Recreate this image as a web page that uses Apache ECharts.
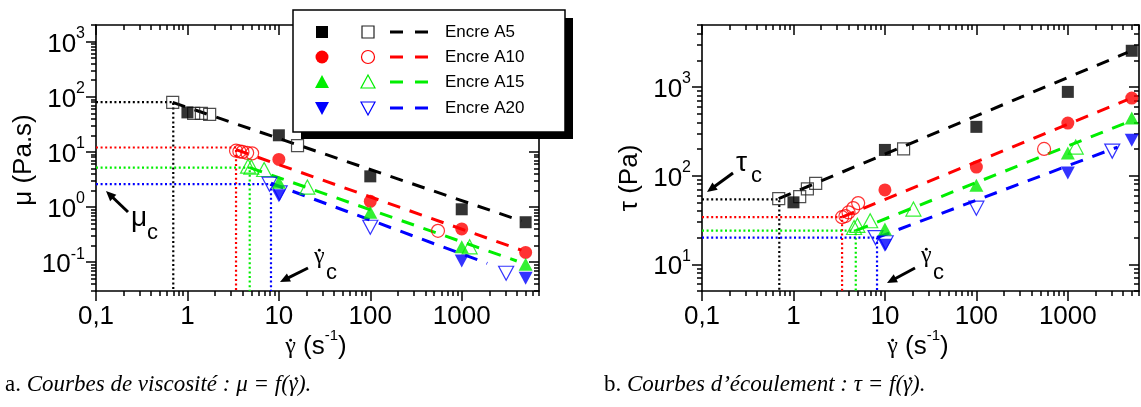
<!DOCTYPE html>
<html><head><meta charset="utf-8">
<script src="https://cdn.jsdelivr.net/npm/echarts@6/dist/echarts.min.js"></script>
<style>html,body{margin:0;padding:0;background:#fff}#c{width:1141px;height:407px}</style>
</head><body><div id="c"></div>
<script>
// ---------- data ----------
const inkNames = ['Encre A5', 'Encre A10', 'Encre A15', 'Encre A20'];
const inkColors = ['#000000', '#ff0000', '#00ee00', '#0000ff'];
const inkSymbols = ['rect', 'circle', 'triangle', 'triangle'];
const inkSymbolRotate = [0, 0, 0, 180];

const shearRangeA = [0.1, 7000];
const shearRangeB = [0.1, 6000];
const muRange = [0.03, 2000];
const tauRange = [5, 5000];
const shearTicks = [0.1, 1, 10, 100, 1000];
const shearTickLabels = ['0,1', '1', '10', '100', '1000'];
const muTicks = [0.1, 1, 10, 100, 1000];
const tauTicks = [10, 100, 1000];

// filled symbols: shear rate (s-1)
const filledShear = [[1, 10, 100, 1000, 5000], [10, 100, 1000, 5000], [10, 100, 1000, 5000], [10, 1000, 5000]];
const filledMu = [[52, 20, 3.6, 0.91, 0.53], [7.3, 1.27, 0.40, 0.15], [2.8, 0.80, 0.19, 0.092], [1.6, 0.105, 0.051]];
const filledTau = [[50, 195, 355, 880, 2560], [69, 125, 392, 750], [25, 78, 180, 447], [16.4, 107, 251]];

// open symbols
const openShear = [[0.69, 1.17, 1.42, 1.75, 16], [3.4, 3.7, 4.0, 4.5, 5.1, 550], [4.6, 5.0, 6.9, 20.5, 1220], [7.9, 10.2, 100, 3060]];
const openMu = [[79, 50, 50, 48, 13], [10.5, 10.2, 10.0, 9.6, 9.4, 0.37], [5.5, 5.3, 4.8, 2.3, 0.19], [2.6, 1.8, 0.43, 0.063]];
const openTau = [[55, 58, 71, 82, 200], [34, 35, 38.5, 43, 49, 200], [26, 27.5, 31, 42, 210], [20, 17.5, 43, 189]];

// power-law fits (dashed): end points
const muFitShear = [[0.69, 4500], [3.4, 4500], [4.8, 4000], [8.2, 1900]];
const muFitValue = [[79, 0.56], [11, 0.165], [5.2, 0.105], [2.7, 0.095]];
const tauFitShear = [[0.69, 4500], [3.4, 4500], [4.8, 4500], [8.2, 3500]];
const tauFitValue = [[55, 2450], [34, 720], [24, 400], [20, 210]];

// critical points (dotted guides)
const gammaC = [0.70, 3.4, 4.8, 8.2];
const muC = [80, 12, 5.2, 2.6];
const tauC = [54, 34, 24, 20];

// ---------- helpers ----------
const SANS = 'Liberation Sans, Arial, sans-serif';
const SERIF = 'Liberation Serif, Times New Roman, serif';
const mctx = document.createElement('canvas').getContext('2d');
function tw(t, fs, fam, st) { mctx.font = (st || 'normal') + ' ' + fs + 'px ' + fam; return mctx.measureText(t).width; }

function minorTicks(range) {
  const out = [];
  for (let d = -3; d <= 4; d++) {
    for (let m = 2; m <= 9; m++) {
      const v = parseFloat((m * Math.pow(10, d)).toPrecision(6));
      if (v >= range[0] * 0.999 && v <= range[1] * 1.001) out.push(v);
    }
  }
  return out;
}
function nearestIdx(arr, v) {
  let best = 0, bd = Infinity;
  arr.forEach((t, i) => { const d = Math.abs(Math.log10(t) - Math.log10(v)); if (d < bd) { bd = d; best = i; } });
  return best;
}

const tickStyle = { color: '#000', width: 1.5 };
const lineStyleAxis = { color: '#000', width: 1.6 };

function xAxesFor(g, range) {
  const base = { type: 'log', logBase: 10, gridIndex: g, min: range[0], max: range[1], splitLine: { show: false }, minorTick: { show: false } };
  const minors = minorTicks(range);
  return [
    Object.assign({}, base, { position: 'bottom', axisLine: { show: true, onZero: false, lineStyle: lineStyleAxis },
      axisTick: { show: true, inside: false, length: 10, customValues: shearTicks, lineStyle: tickStyle },
      axisLabel: { show: true, customValues: shearTicks, margin: 13, color: '#000', fontSize: 26, fontFamily: SANS,
        formatter: v => shearTickLabels[nearestIdx(shearTicks, v)] } }),
    Object.assign({}, base, { position: 'bottom', axisLine: { show: false },
      axisTick: { show: true, inside: false, length: 5, customValues: minors, lineStyle: tickStyle }, axisLabel: { show: false } }),
    Object.assign({}, base, { position: 'top', axisLine: { show: true, onZero: false, lineStyle: lineStyleAxis },
      axisTick: { show: true, inside: true, length: 10, customValues: shearTicks, lineStyle: tickStyle }, axisLabel: { show: false } }),
    Object.assign({}, base, { position: 'top', axisLine: { show: false },
      axisTick: { show: true, inside: true, length: 5, customValues: minors, lineStyle: tickStyle }, axisLabel: { show: false } })
  ];
}
function yAxesFor(g, range, ticks) {
  const base = { type: 'log', logBase: 10, gridIndex: g, min: range[0], max: range[1], splitLine: { show: false }, minorTick: { show: false } };
  const minors = minorTicks(range);
  return [
    Object.assign({}, base, { position: 'left', axisLine: { show: true, onZero: false, lineStyle: lineStyleAxis },
      axisTick: { show: true, inside: false, length: 10, customValues: ticks, lineStyle: tickStyle },
      axisLabel: { show: true, customValues: ticks, margin: 11, color: '#000',
        formatter: v => '{b|10}{s|' + Math.round(Math.log10(v)) + '}',
        rich: { b: { fontSize: 26, fontFamily: SANS, color: '#000', padding: [6, 0, 0, 0] },
                s: { fontSize: 16, fontFamily: SANS, color: '#000', verticalAlign: 'top' } } } }),
    Object.assign({}, base, { position: 'left', axisLine: { show: false },
      axisTick: { show: true, inside: false, length: 5, customValues: minors, lineStyle: tickStyle }, axisLabel: { show: false } }),
    Object.assign({}, base, { position: 'right', axisLine: { show: true, onZero: false, lineStyle: lineStyleAxis },
      axisTick: { show: true, inside: true, length: 10, customValues: ticks, lineStyle: tickStyle }, axisLabel: { show: false } }),
    Object.assign({}, base, { position: 'right', axisLine: { show: false },
      axisTick: { show: true, inside: true, length: 5, customValues: minors, lineStyle: tickStyle }, axisLabel: { show: false } })
  ];
}

const filledSize = [12, 13, [14, 13], [14, 13]];
const openSize = [12, 13, [15, 14], [15, 14]];

function panelSeries(p) {
  const xi = p * 4, yi = p * 4;
  const fY = p === 0 ? filledMu : filledTau;
  const oY = p === 0 ? openMu : openTau;
  const fitX = p === 0 ? muFitShear : tauFitShear;
  const fitY = p === 0 ? muFitValue : tauFitValue;
  const cY = p === 0 ? muC : tauC;
  const yMin = p === 0 ? muRange[0] : tauRange[0];
  const xMin = p === 0 ? shearRangeA[0] : shearRangeB[0];
  const out = [];
  inkNames.forEach((name, k) => {
    const col = inkColors[k];
    out.push({ type: 'line', name: name + ' guide', xAxisIndex: xi, yAxisIndex: yi, silent: true, symbol: 'none', z: 1,
      data: [[xMin, cY[k]], [gammaC[k], cY[k]], [gammaC[k], yMin]],
      lineStyle: { color: col, width: 2.2, type: [2, 2.6] } });
    out.push({ type: 'line', name: name + ' fit', xAxisIndex: xi, yAxisIndex: yi, silent: true, symbol: 'none', z: 2,
      data: fitX[k].map((x, i) => [x, fitY[k][i]]),
      lineStyle: { color: col, width: 3, type: [13, 10] } });
    out.push({ type: 'scatter', name: name + ' open', xAxisIndex: xi, yAxisIndex: yi, silent: true, z: 3,
      symbol: inkSymbols[k], symbolRotate: inkSymbolRotate[k], symbolSize: openSize[k],
      data: openShear[k].map((x, i) => [x, oY[k][i]]),
      itemStyle: { color: 'rgba(255,255,255,0)', borderColor: k === 0 ? '#222' : col, borderWidth: 1.2 } });
    out.push({ type: 'scatter', name: name + ' filled', xAxisIndex: xi, yAxisIndex: yi, silent: true, z: 4,
      symbol: inkSymbols[k], symbolRotate: inkSymbolRotate[k], symbolSize: filledSize[k],
      data: filledShear[k].map((x, i) => [x, fY[k][i]]),
      itemStyle: { color: col } });
  });
  return out;
}

// ---------- graphic decorations ----------
function arrow(tx, ty, hx, hy) {
  const dx = hx - tx, dy = hy - ty, L = Math.hypot(dx, dy);
  const ux = dx / L, uy = dy / L, nx = -uy, ny = ux;
  const bx = hx - ux * 10, by = hy - uy * 10;
  return [
    { type: 'line', z: 50, shape: { x1: tx, y1: ty, x2: bx + ux * 2, y2: by + uy * 2 }, style: { stroke: '#000', lineWidth: 3 } },
    { type: 'polygon', z: 50, shape: { points: [[hx, hy], [bx + nx * 4.5, by + ny * 4.5], [bx - nx * 4.5, by - ny * 4.5]] }, style: { fill: '#000' } }
  ];
}
function txt(x, y, text, size, family, extra) {
  return { type: 'text', z: 50, x: x, y: y,
    style: Object.assign({ text: text, fontSize: size, fontFamily: family, fill: '#000', align: 'left', verticalAlign: 'middle' }, extra || {}) };
}
// pieces: {t, fs, fam, st, dy, dot}; laid out left to right from x0 (or centred on x0)
function runText(pieces, x0, yMid, centre) {
  const widths = pieces.map(p => tw(p.t, p.fs, p.fam, p.st));
  const total = widths.reduce((a, b) => a + b, 0);
  let x = centre ? x0 - total / 2 : x0;
  const out = [];
  pieces.forEach((p, i) => {
    out.push(txt(x, yMid + (p.dy || 0), p.t, p.fs, p.fam, { fontStyle: p.st || 'normal' }));
    if (p.dot) {
      const base = yMid + (p.dy || 0) + 0.34 * p.fs;
      const cx = x + widths[i] / 2 + (p.st === 'italic' ? 0.12 * p.fs : 0);
      out.push({ type: 'circle', z: 50, shape: { cx: cx, cy: base - 0.62 * p.fs, r: Math.max(1.2, p.fs * 0.06) }, style: { fill: '#000' } });
    }
    x += widths[i];
  });
  return out;
}

function legendGraphics() {
  const g = [];
  g.push({ type: 'rect', z: 60, shape: { x: 301, y: 18, width: 272, height: 121 }, style: { fill: '#000' } });
  g.push({ type: 'rect', z: 61, shape: { x: 293, y: 10, width: 272, height: 122 }, style: { fill: '#fff', stroke: '#000', lineWidth: 1.5 } });
  const rows = [32, 57, 82, 108];
  inkNames.forEach((name, k) => {
    const cy = rows[k], col = inkColors[k];
    const shape = (cx, filled) => {
      const st = filled ? { fill: col } : { fill: 'none', stroke: k === 0 ? '#222' : col, lineWidth: 1.2 };
      if (inkSymbols[k] === 'rect') return { type: 'rect', z: 62, shape: { x: cx - 6, y: cy - 6, width: 12, height: 12 }, style: st };
      if (inkSymbols[k] === 'circle') return { type: 'circle', z: 62, shape: { cx: cx, cy: cy, r: 6.5 }, style: st };
      const pts = inkSymbolRotate[k] === 0 ? [[cx, cy - 7], [cx + 7, cy + 6], [cx - 7, cy + 6]] : [[cx, cy + 7], [cx + 7, cy - 6], [cx - 7, cy - 6]];
      return { type: 'polygon', z: 62, shape: { points: pts }, style: st };
    };
    g.push(shape(322, true));
    g.push(shape(368, false));
    g.push({ type: 'line', z: 62, shape: { x1: 390, y1: cy, x2: 428, y2: cy }, style: { stroke: col, lineWidth: 3, lineDash: [13, 12] } });
    const t = txt(445, cy, name, 17, SANS); t.z = 62;
    g.push(t);
  });
  return g;
}

function xName(cx) {
  return runText([
    { t: 'γ', fs: 24, fam: SERIF, dot: true },
    { t: ' (s', fs: 26, fam: SANS },
    { t: '-1', fs: 15, fam: SANS, dy: -11 },
    { t: ')', fs: 26, fam: SANS }
  ], cx, 347, true);
}
function caption(x0, label, body, sym) {
  return runText([
    { t: label, fs: 23, fam: SERIF },
    { t: body + sym + ' = f(', fs: 23, fam: SERIF, st: 'italic' },
    { t: 'γ', fs: 23, fam: SERIF, st: 'italic', dot: true },
    { t: ').', fs: 23, fam: SERIF, st: 'italic' }
  ], x0, 385, false);
}

const graphics = [].concat(
  // axis names
  [{ type: 'text', z: 50, x: 24, y: 160, rotation: Math.PI / 2, style: { text: 'μ (Pa.s)', fontSize: 26, fontFamily: SANS, fill: '#000', align: 'center', verticalAlign: 'middle' } },
   { type: 'text', z: 50, x: 630, y: 178, rotation: Math.PI / 2, style: { text: 'τ (Pa)', fontSize: 26, fontFamily: SANS, fill: '#000', align: 'center', verticalAlign: 'middle' } }],
  xName(316),
  xName(918),
  // annotations
  arrow(128, 212, 106, 191),
  [txt(131, 218, 'μ', 28, SANS), txt(147, 233, 'c', 22, SANS)],
  arrow(308, 268, 280, 282),
  runText([{ t: 'γ', fs: 24, fam: SERIF, dot: true }], 314, 257, false),
  [txt(326, 273, 'c', 22, SANS)],
  arrow(733, 173, 707, 192),
  [txt(736, 163, 'τ', 28, SANS), txt(751, 176, 'c', 22, SANS)],
  arrow(915, 268, 887, 283),
  runText([{ t: 'γ', fs: 24, fam: SERIF, dot: true }], 921, 256, false),
  [txt(933, 273, 'c', 22, SANS)],
  // captions
  caption(5, 'a. ', 'Courbes de viscosité : ', 'μ'),
  caption(604, 'b. ', 'Courbes d’écoulement : ', 'τ'),
  legendGraphics()
);

const option = {
  animation: false,
  backgroundColor: '#fff',
  grid: [
    { left: 96, top: 25, width: 443, height: 266, containLabel: false },
    { left: 702, top: 25, width: 437, height: 266, containLabel: false }
  ],
  xAxis: [].concat(xAxesFor(0, shearRangeA), xAxesFor(1, shearRangeB)),
  yAxis: [].concat(yAxesFor(0, muRange, muTicks), yAxesFor(1, tauRange, tauTicks)),
  series: [].concat(panelSeries(0), panelSeries(1)),
  graphic: graphics
};

const chart = echarts.init(document.getElementById('c'), null, { renderer: 'canvas', width: 1141, height: 407 });
chart.setOption(option);
</script>
</body></html>
